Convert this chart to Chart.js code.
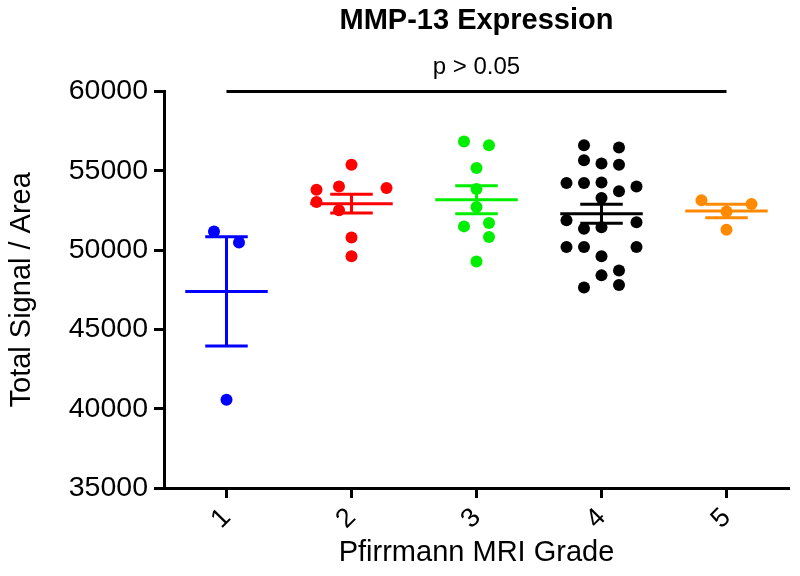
<!DOCTYPE html>
<html>
<head>
<meta charset="utf-8">
<script src="https://cdn.jsdelivr.net/npm/chart.js@4.4.1/dist/chart.umd.min.js"></script>
<style>
  body { margin: 0; background: #fff; }
</style>
</head>
<body>
<canvas id="mmpChart" width="800" height="576"></canvas>
<script>
// Pfirrmann grades (x categories) and y tick values
const grades = [1, 2, 3, 4, 5];
const yTicks = [35000, 40000, 45000, 50000, 55000, 60000];

const grade1Values = [51180, 50490, 40560];
const grade2Values = [55390, 53810, 54020, 53920, 53040, 52510, 50800, 49610];
const grade3Values = [56860, 56610, 55180, 53860, 52720, 51500, 51710, 50830, 49290];
const grade4Values = [56610, 56480, 55670, 55460, 55390, 54230, 54230, 54270, 54020, 53710, 53290,
                      51880, 51760, 51350, 51440, 50200, 50200, 50200, 49610, 48410, 48720, 47800, 47650];
const grade5Values = [53140, 52910, 52440, 51290];

// Horizontal scatter of each dot around its grade (in grade units)
const grade1Offsets = [-0.10, 0.10, 0];
const grade2Offsets = [0, -0.28, -0.10, 0.28, -0.28, -0.10, 0, 0];
const grade3Offsets = [-0.10, 0.10, 0, 0, 0, -0.10, 0.10, 0.10, 0];
const grade4Offsets = [-0.14, 0.14, -0.14, 0, 0.14, -0.28, -0.14, 0, 0.28, 0.14, 0,
                       -0.28, 0.28, -0.14, 0, -0.28, -0.14, 0.28, 0, 0, 0.14, 0.14, -0.14];
const grade5Offsets = [-0.2, 0.2, 0, 0];

// Mean and SEM per grade
const groupMeans = [47400, 52930, 53180, 52290, 52470];
const groupSems = [3440, 590, 880, 600, 425];

// p-value bracket
const sigSpan = [1, 5];
const sigLevel = 60000;

const groupColors = ['#0000FF', '#FF0000', '#00EE00', '#000000', '#FF8A00'];
const allValues = [grade1Values, grade2Values, grade3Values, grade4Values, grade5Values];
const allOffsets = [grade1Offsets, grade2Offsets, grade3Offsets, grade4Offsets, grade5Offsets];

const fontFamily = '"Liberation Sans", Arial, sans-serif';

const datasets = grades.map((g, i) => ({
    label: 'Grade ' + g,
    data: allValues[i].map((v, j) => ({ x: g + allOffsets[i][j], y: v })),
    backgroundColor: groupColors[i],
    borderWidth: 0,
    pointRadius: 6,
    pointHoverRadius: 6
}));

datasets.push({
    label: 'p bracket',
    data: [{ x: sigSpan[0], y: sigLevel }, { x: sigSpan[1], y: sigLevel }],
    showLine: true,
    borderColor: '#000',
    borderWidth: 3,
    pointRadius: 0,
    clip: false
});

// Mean line + SEM whiskers, drawn on top of the dots
const meanSemPlugin = {
    id: 'meanSem',
    afterDatasetsDraw(chart) {
        const { ctx, scales: { x, y } } = chart;
        ctx.save();
        ctx.lineWidth = 3;
        ctx.lineCap = 'butt';
        grades.forEach((g, i) => {
            const m = groupMeans[i];
            const s = groupSems[i];
            ctx.strokeStyle = groupColors[i];
            ctx.beginPath();
            ctx.moveTo(x.getPixelForValue(g - 0.33), y.getPixelForValue(m));
            ctx.lineTo(x.getPixelForValue(g + 0.33), y.getPixelForValue(m));
            ctx.moveTo(x.getPixelForValue(g), y.getPixelForValue(m + s));
            ctx.lineTo(x.getPixelForValue(g), y.getPixelForValue(m - s));
            ctx.moveTo(x.getPixelForValue(g - 0.17), y.getPixelForValue(m + s));
            ctx.lineTo(x.getPixelForValue(g + 0.17), y.getPixelForValue(m + s));
            ctx.moveTo(x.getPixelForValue(g - 0.17), y.getPixelForValue(m - s));
            ctx.lineTo(x.getPixelForValue(g + 0.17), y.getPixelForValue(m - s));
            ctx.stroke();
        });
        ctx.restore();
    }
};

const ctx = document.getElementById('mmpChart').getContext('2d');

const mmpChart = new Chart(ctx, {
    type: 'scatter',
    data: { datasets: datasets },
    options: {
        responsive: false,
        animation: false,
        devicePixelRatio: 1,
        layout: { padding: { left: 0, right: 11, top: 0, bottom: 0 } },
        plugins: {
            legend: { display: false },
            tooltip: { enabled: false },
            title: {
                display: true,
                text: 'MMP-13 Expression',
                fullSize: false,
                color: '#000',
                font: { family: fontFamily, size: 29, weight: 'bold' },
                padding: { top: 4, bottom: 13 }
            },
            subtitle: {
                display: true,
                text: 'p > 0.05',
                fullSize: false,
                color: '#000',
                font: { family: fontFamily, size: 24 },
                padding: { top: 1, bottom: 10 }
            }
        },
        scales: {
            x: {
                type: 'linear',
                min: 0.5,
                max: 5.5,
                afterBuildTicks: scale => { scale.ticks = grades.map(v => ({ value: v })); },
                afterFit: scale => { scale.height = 88; },
                border: { display: true, color: '#000', width: 3 },
                grid: { display: true, drawOnChartArea: false, drawTicks: true, tickLength: 10, tickWidth: 3, tickColor: '#000' },
                ticks: {
                    minRotation: 45,
                    maxRotation: 45,
                    color: '#000',
                    padding: 4,
                    font: { family: fontFamily, size: 27 }
                },
                title: {
                    display: true,
                    text: 'Pfirrmann MRI Grade',
                    color: '#000',
                    font: { family: fontFamily, size: 29 },
                    padding: { top: 0, bottom: 6 }
                }
            },
            y: {
                min: 35000,
                max: 60000,
                afterBuildTicks: scale => { scale.ticks = yTicks.map(v => ({ value: v })); },
                afterFit: scale => { scale.width = 164; },
                border: { display: true, color: '#000', width: 3 },
                grid: { display: true, drawOnChartArea: false, drawTicks: true, tickLength: 10, tickWidth: 3, tickColor: '#000' },
                ticks: {
                    color: '#000',
                    padding: 6,
                    font: { family: fontFamily, size: 28.5 },
                    callback: value => String(value)
                },
                title: {
                    display: true,
                    text: 'Total Signal / Area',
                    color: '#000',
                    font: { family: fontFamily, size: 29 },
                    padding: { top: 5, bottom: 4 }
                }
            }
        }
    },
    plugins: [meanSemPlugin]
});
</script>
</body>
</html>
